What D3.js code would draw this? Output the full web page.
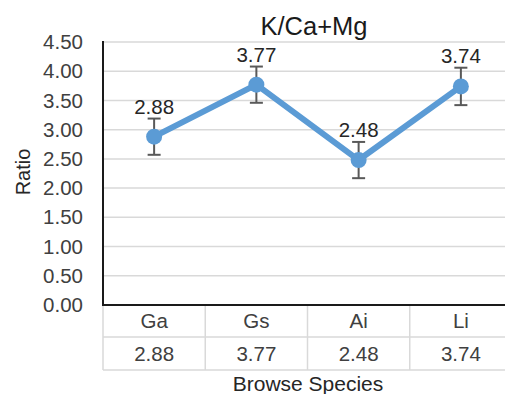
<!DOCTYPE html>
<html>
<head>
<meta charset="utf-8">
<script src="https://cdn.jsdelivr.net/npm/d3@7"></script>
<style>
  html, body { margin: 0; padding: 0; background: #fff; overflow: hidden; }
  svg { display: block; font-family: "Liberation Sans", Arial, sans-serif; }
</style>
</head>
<body>
<svg id="chart" width="505" height="394"></svg>
<script>
// K/(Ca+Mg) ratio by browse species, with error bars
const species = ["Ga", "Gs", "Ai", "Li"];
const ratios = [2.88, 3.77, 2.48, 3.74];
const errors = [0.31, 0.31, 0.31, 0.32];
const yTicks = [0, 0.5, 1, 1.5, 2, 2.5, 3, 3.5, 4, 4.5];

const svg = d3.select("#chart");
const plot = { left: 103, right: 512, top: 42, bottom: 305 };
const rowH = [32, 33];

const x = d3.scaleBand().domain(species).range([plot.left, plot.right]);
const y = d3.scaleLinear().domain([0, 4.5]).range([plot.bottom, plot.top]);

const data = species.map((s, i) => ({ s, v: ratios[i], e: errors[i] }));

// gridlines
svg.append("g").selectAll("line").data(yTicks.filter(t => t > 0)).join("line")
  .attr("x1", plot.left).attr("x2", plot.right)
  .attr("y1", d => y(d)).attr("y2", d => y(d))
  .attr("stroke", "#d9d9d9").attr("stroke-width", 1.5);

// y axis tick labels
const yAxis = d3.axisLeft(y).tickValues(yTicks).tickFormat(d3.format(".2f")).tickSize(0).tickPadding(20);
const ya = svg.append("g").attr("transform", `translate(${plot.left},0)`).call(yAxis);
ya.select(".domain").remove();
ya.selectAll("text").attr("font-size", 20.5).attr("fill", "#404040")
  .attr("font-family", "Liberation Sans, Arial, sans-serif");

// data table under the plot
const tableTop = plot.bottom;
const rows = [tableTop, tableTop + rowH[0], tableTop + rowH[0] + rowH[1]];
const tbl = svg.append("g");
tbl.selectAll("line.h").data(rows.slice(1)).join("line")
  .attr("x1", plot.left).attr("x2", plot.right)
  .attr("y1", d => d).attr("y2", d => d)
  .attr("stroke", "#d9d9d9").attr("stroke-width", 1.5);
const colEdges = species.map(s => x(s)).concat([plot.right]);
tbl.selectAll("line.v").data(colEdges).join("line")
  .attr("x1", d => d).attr("x2", d => d)
  .attr("y1", tableTop).attr("y2", rows[2])
  .attr("stroke", "#d9d9d9").attr("stroke-width", 1.5);
tbl.selectAll("text.cat").data(data).join("text")
  .attr("x", d => x(d.s) + x.bandwidth() / 2)
  .attr("y", tableTop + rowH[0] / 2 + 7)
  .attr("text-anchor", "middle").attr("font-size", 20.5).attr("fill", "#404040")
  .text(d => d.s);
tbl.selectAll("text.val").data(data).join("text")
  .attr("x", d => x(d.s) + x.bandwidth() / 2)
  .attr("y", rows[1] + rowH[1] / 2 + 7)
  .attr("text-anchor", "middle").attr("font-size", 20.5).attr("fill", "#404040")
  .text(d => d.v.toFixed(2));

// axis lines
svg.append("line").attr("x1", plot.left).attr("x2", plot.left)
  .attr("y1", plot.top - 1).attr("y2", plot.bottom + 1)
  .attr("stroke", "#1a1a1a").attr("stroke-width", 2);
svg.append("line").attr("x1", plot.left).attr("x2", plot.right)
  .attr("y1", plot.bottom).attr("y2", plot.bottom)
  .attr("stroke", "#1a1a1a").attr("stroke-width", 2);

// series line
const cx = d => x(d.s) + x.bandwidth() / 2;
svg.append("path").datum(data)
  .attr("d", d3.line().x(cx).y(d => y(d.v)))
  .attr("fill", "none").attr("stroke", "#5b9bd5").attr("stroke-width", 6)
  .attr("stroke-linejoin", "round");

// error bars
const eb = svg.append("g").attr("stroke", "#595959").attr("stroke-width", 2);
eb.selectAll("line.bar").data(data).join("line")
  .attr("x1", cx).attr("x2", cx)
  .attr("y1", d => y(d.v + d.e)).attr("y2", d => y(d.v - d.e));
eb.selectAll("line.capT").data(data).join("line")
  .attr("x1", d => cx(d) - 6.5).attr("x2", d => cx(d) + 6.5)
  .attr("y1", d => y(d.v + d.e)).attr("y2", d => y(d.v + d.e));
eb.selectAll("line.capB").data(data).join("line")
  .attr("x1", d => cx(d) - 6.5).attr("x2", d => cx(d) + 6.5)
  .attr("y1", d => y(d.v - d.e)).attr("y2", d => y(d.v - d.e));

// markers
svg.append("g").selectAll("circle").data(data).join("circle")
  .attr("cx", cx).attr("cy", d => y(d.v)).attr("r", 8)
  .attr("fill", "#5b9bd5");

// data labels
svg.append("g").selectAll("text").data(data).join("text")
  .attr("x", cx).attr("y", d => y(d.v) - 23)
  .attr("text-anchor", "middle").attr("font-size", 20.5).attr("fill", "#262626")
  .text(d => d.v.toFixed(2));

// title
svg.append("text").attr("x", 314).attr("y", 35)
  .attr("text-anchor", "middle").attr("font-size", 25.5).attr("fill", "#1a1a1a")
  .text("K/Ca+Mg");

// axis titles
svg.append("text")
  .attr("transform", "translate(30,172) rotate(-90)")
  .attr("text-anchor", "middle").attr("font-size", 20).attr("fill", "#262626")
  .text("Ratio");
svg.append("text").attr("x", 308).attr("y", 391)
  .attr("text-anchor", "middle").attr("font-size", 21).attr("fill", "#262626")
  .text("Browse Species");
</script>
</body>
</html>
